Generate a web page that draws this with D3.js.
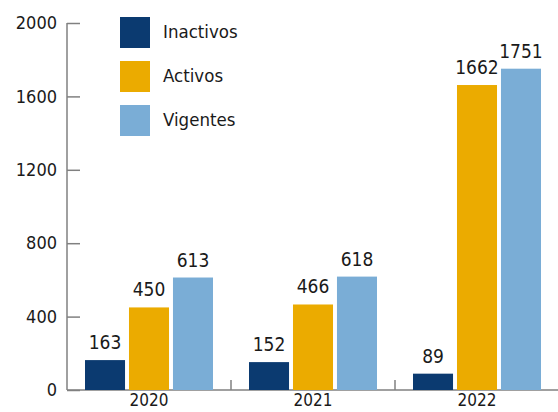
<!DOCTYPE html>
<html><head><meta charset="utf-8">
<script src="https://cdn.jsdelivr.net/npm/d3@7"></script>
<style>
body{margin:0;background:#fff;}
text{font-family:"DejaVu Sans Condensed","Liberation Sans",sans-serif;fill:#1a1a1a;}
</style></head><body>
<svg id="c" width="558" height="412"></svg>
<script>
const years = ["2020","2021","2022"];
const seriesNames = ["Inactivos","Activos","Vigentes"];
const inactivos = [163,152,89];
const activos = [450,466,1662];
const vigentes = [613,618,1751];
const yTicks = [0,400,800,1200,1600,2000];
const colors = ["#0b3a70","#ebab00","#7aadd6"];

const values = [inactivos, activos, vigentes];
const svg = d3.select("#c");
const x0 = 67, x1 = 559, yb = 390, yt = 23;
const x = d3.scaleBand().domain(years).range([x0,x1]).paddingInner(0).paddingOuter(0);
const xs = d3.scaleBand().domain(seriesNames).range([18, x.bandwidth()-18]).paddingInner(0.09).paddingOuter(0);
const y = d3.scaleLinear().domain([0,2000]).range([yb,yt]);

// y axis
const ya = svg.append("g").attr("transform",`translate(${x0},0)`)
  .call(d3.axisLeft(y).tickValues(yTicks).tickSize(-13).tickPadding(10).tickFormat(d3.format("d")));
ya.select(".domain").attr("stroke","#808080").attr("stroke-width",1.5).attr("d",`M0,${yt}V${yb}`);
ya.selectAll(".tick line").attr("stroke","#808080").attr("stroke-width",1.5);
ya.selectAll(".tick text").style("font-size","18px").attr("fill","#1a1a1a");

// x axis
const xa = svg.append("g").attr("transform",`translate(0,${yb})`)
  .call(d3.axisBottom(x).tickSize(0).tickPadding(4));
xa.select(".domain").attr("stroke","#808080").attr("stroke-width",1.5).attr("d",`M${x0},0H${x1}`);
xa.selectAll(".tick text").style("font-size","17px").attr("fill","#1a1a1a").attr("dy","0.71em");
// separators between groups
svg.append("g").selectAll("line").data(years.slice(1)).join("line")
  .attr("x1",d=>x(d)).attr("x2",d=>x(d)).attr("y1",yb).attr("y2",yb-10)
  .attr("stroke","#808080").attr("stroke-width",1.5);

// bars
const g = svg.append("g");
seriesNames.forEach((s,si)=>{
  years.forEach((yr,i)=>{
    const v = values[si][i];
    g.append("rect").attr("x",x(yr)+xs(s)).attr("width",xs.bandwidth())
      .attr("y",y(v)).attr("height",yb-y(v)).attr("fill",colors[si]);
    g.append("text").attr("x",x(yr)+xs(s)+xs.bandwidth()/2).attr("y",y(v)-11)
      .attr("text-anchor","middle").style("font-size","19px").text(v);
  });
});

// legend
const lg = svg.append("g");
seriesNames.forEach((s,i)=>{
  lg.append("rect").attr("x",120).attr("y",17+i*44).attr("width",30).attr("height",31).attr("fill",colors[i]);
  lg.append("text").attr("x",163).attr("y",32+i*44).attr("dy","0.35em").style("font-size","18.5px").text(s);
});
</script>
</body></html>
